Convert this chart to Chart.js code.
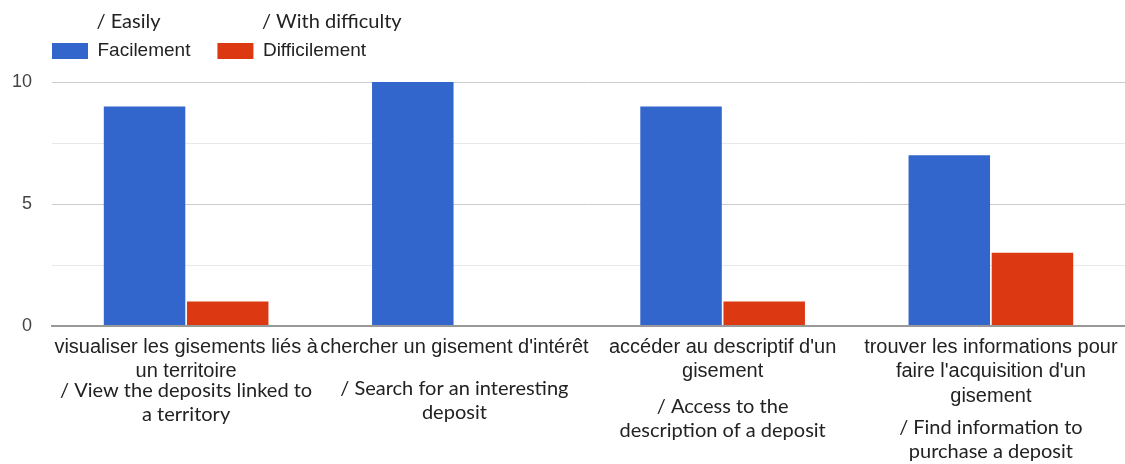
<!DOCTYPE html>
<html>
<head>
<meta charset="utf-8">
<script src="https://cdn.jsdelivr.net/npm/chart.js@4.4.1/dist/chart.umd.min.js"></script>
<style>
  html, body { margin: 0; padding: 0; background: #ffffff; }
  #wrap { width: 1125px; height: 464px; position: relative; }
</style>
</head>
<body>
<div id="wrap"><canvas id="c"></canvas></div>
<script>
// ---- data ----
const categories = [
  ["visualiser les gisements liés à", "un territoire"],
  ["chercher un gisement d'intérêt"],
  ["accéder au descriptif d'un", "gisement"],
  ["trouver les informations pour", "faire l'acquisition d'un", "gisement"]
];
const englishLabels = [
  ["/ View the deposits linked to", "a territory"],
  ["/ Search for an interesting", "deposit"],
  ["/ Access to the", "description of a deposit"],
  ["/ Find information to", "purchase a deposit"]
];
const seriesNames = ["Facilement", "Difficilement"];
const seriesEnglish = ["/ Easily", "/ With difficulty"];
const easilyValues = [9, 10, 9, 7];
const difficultyValues = [1, 0, 1, 3];
const yTickLabels = [0, 5, 10];

// vertical offsets (px below the x axis) of the English annotation blocks
const englishOffsets = [65, 63, 81, 102];

const legendTweak = {
  id: 'legendTweak',
  beforeInit(chart) {
    const orig = chart.legend.fit;
    chart.legend.fit = function () {
      orig.call(this);
      this.height += 11.5;
    };
  },
  afterLayout(chart) {
    // align the legend's first swatch with the plot's left edge
    const lg = chart.legend;
    lg.left += 25;
    lg.right += 25;
  }
};

const annotations = {
  id: 'annotations',
  afterDraw(chart) {
    const ctx = chart.ctx;
    ctx.save();
    ctx.fillStyle = '#222';
    ctx.textAlign = 'center';
    ctx.textBaseline = 'middle';
    ctx.font = '20px Lato';
    const xs = chart.scales.x;
    englishLabels.forEach((lines, i) => {
      const x = xs.getPixelForTick(i);
      lines.forEach((t, j) => {
        ctx.fillText(t, x, chart.chartArea.bottom + englishOffsets[i] + j * 24);
      });
    });
    // legend annotations
    const lg = chart.legend;
    ctx.textAlign = 'left';
    lg.legendHitBoxes.forEach((hb, i) => {
      ctx.fillText(seriesEnglish[i], hb.left + 36 + 9.5 - 1, 22);
    });
    ctx.restore();
  }
};

new Chart(document.getElementById('c'), {
  type: 'bar',
  data: {
    labels: categories,
    datasets: [
      { label: seriesNames[0], data: easilyValues, backgroundColor: '#3366cc', borderWidth: 0,
        categoryPercentage: 0.62, barPercentage: 0.98 },
      { label: seriesNames[1], data: difficultyValues, backgroundColor: '#dc3912', borderWidth: 0,
        categoryPercentage: 0.62, barPercentage: 0.98 }
    ]
  },
  options: {
    responsive: true,
    maintainAspectRatio: false,
    animation: false,
    layout: { padding: { left: 0, top: 14.5, right: 0, bottom: 0 } },
    plugins: {
      tooltip: { enabled: false },
      legend: {
        position: 'top',
        align: 'start',
        labels: {
          boxWidth: 36,
          boxHeight: 16,
          padding: 27,
          color: '#222',
          font: { family: "'Liberation Sans', Arial, sans-serif", size: 19 }
        }
      }
    },
    scales: {
      x: {
        grid: { display: false },
        border: { color: '#999', width: 2 },
        ticks: {
          autoSkip: false,
          maxRotation: 0,
          minRotation: 0,
          padding: 1,
          color: '#222',
          font: { family: "'Liberation Sans', Arial, sans-serif", size: 20, lineHeight: 1.22 }
        },
        afterFit(scale) { scale.height = 138; }
      },
      y: {
        min: 0,
        max: 10,
        border: { display: false },
        grid: {
          drawTicks: false,
          color: (c) => c.tick.value === 0 ? '#999' : (yTickLabels.includes(c.tick.value) ? '#cccccc' : '#e8e8e8'),
          lineWidth: (c) => c.tick.value === 0 ? 2 : 1
        },
        ticks: {
          stepSize: 2.5,
          padding: 20,
          color: '#444',
          font: { family: "'Liberation Sans', Arial, sans-serif", size: 18 },
          callback: (v) => yTickLabels.includes(v) ? String(v) : ''
        },
        afterFit(scale) { scale.width = 52; }
      }
    }
  },
  plugins: [legendTweak, annotations]
});
</script>
</body>
</html>
